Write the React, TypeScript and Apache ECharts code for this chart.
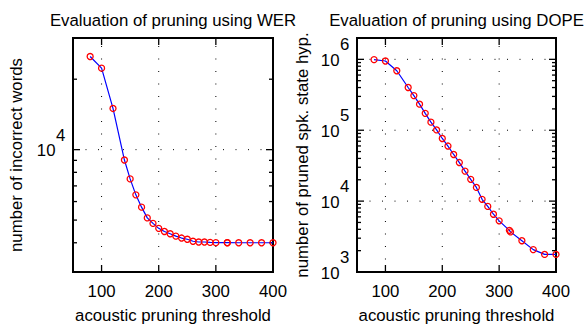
import React, { useEffect, useRef } from "react";
import * as echarts from "echarts";

// ---------- data ----------
const werThresholds = [80, 100, 120, 140, 150, 160, 170, 180, 190, 200, 210, 220, 230, 240, 250, 260, 270, 280, 290, 300, 320, 320, 340, 360, 380, 400];
const incorrectWords = [25000, 22300, 15000, 9030, 7500, 6410, 5680, 5110, 4840, 4610, 4470, 4370, 4270, 4190, 4140, 4060, 4030, 4030, 4015, 4005, 4005, 4000, 4000, 4000, 4000, 4000];

const dopeThresholds = [80, 100, 120, 140, 150, 160, 170, 180, 190, 200, 210, 220, 230, 240, 250, 260, 270, 280, 290, 300, 318, 320, 340, 360, 380, 400];
const prunedHyp = [990000, 947000, 690000, 401000, 308000, 233000, 173000, 130000, 101000, 76500, 59800, 45500, 35000, 26500, 20300, 15600, 10600, 8420, 6530, 5270, 3870, 3680, 2760, 2070, 1770, 1770];

const titles = ["Evaluation of pruning using WER", "Evaluation of pruning using DOPE"];
const xName = "acoustic pruning threshold";
const yNames = ["number of incorrect words", "number of pruned spk. state hyp."];

const xTicks = [100, 200, 300, 400];
const xRange = [50, 400];

const werYRange = [3000, 30000];
const werMajor = [10000];
const werMinor = [4000, 5000, 6000, 7000, 8000, 9000, 20000];
const werLabels = [10000];

const dopeYRange = [1000, 2000000];
const dopeMajor = [10000, 100000, 1000000];
const dopeMinor = [
  2000, 3000, 4000, 5000, 6000, 7000, 8000, 9000,
  20000, 30000, 40000, 50000, 60000, 70000, 80000, 90000,
  200000, 300000, 400000, 500000, 600000, 700000, 800000, 900000,
];
const dopeLabels = [1000, 10000, 100000, 1000000];

// ---------- style ----------
const FONT_FAMILY = "'Liberation Sans', Arial, Helvetica, sans-serif";
const FS = 16.8;
const FONT = `${FS}px ${FONT_FAMILY}`;
const MAJOR = 7;
const MINOR = 4;

const grids = [
  { left: 73, top: 38, width: 200, height: 239 },
  { left: 357, top: 38, width: 199, height: 239 },
];
const yNameGaps = [48.5, 46];

function xDeco(yMin: number, yMax: number) {
  return (params: any, api: any) => {
    const v = api.value(0);
    const b = api.coord([v, yMin]);
    const t = api.coord([v, yMax]);
    const st = { stroke: "#000", lineWidth: 1.3 };
    const children: any[] = [
      { type: "line", shape: { x1: b[0], y1: b[1], x2: b[0], y2: b[1] - MAJOR }, style: st },
      { type: "line", shape: { x1: t[0], y1: t[1], x2: t[0], y2: t[1] + MAJOR }, style: st },
      {
        type: "text",
        x: b[0],
        y: b[1] + 19.5,
        style: { text: String(v), align: "center", verticalAlign: "middle", font: FONT, fill: "#000" },
      },
    ];
    if (v > xRange[0] && v < xRange[1]) {
      children.push({
        type: "line",
        shape: { x1: b[0], y1: b[1], x2: t[0], y2: t[1] },
        style: { stroke: "#000", lineWidth: 1, lineDash: [1, 11.5] },
      });
    }
    return { type: "group", children };
  };
}

function yDeco(len: number, grid: boolean) {
  return (params: any, api: any) => {
    const v = api.value(1);
    const l = api.coord([xRange[0], v]);
    const r = api.coord([xRange[1], v]);
    const st = { stroke: "#000", lineWidth: 1.3 };
    const children: any[] = [
      { type: "line", shape: { x1: l[0], y1: l[1], x2: l[0] + len, y2: l[1] }, style: st },
      { type: "line", shape: { x1: r[0], y1: r[1], x2: r[0] - len, y2: r[1] }, style: st },
    ];
    if (grid) {
      children.push({
        type: "line",
        shape: { x1: l[0], y1: l[1], x2: r[0], y2: r[1] },
        style: { stroke: "#000", lineWidth: 1, lineDash: [1, 11.5] },
      });
    }
    return { type: "group", children };
  };
}

function yLabel(params: any, api: any) {
  const v = api.value(1);
  const p = api.coord([xRange[0], v]);
  const exp = Math.round(Math.log10(v));
  const bx = p[0] - 17.5;
  return {
    type: "group",
    children: [
      {
        type: "text",
        x: bx,
        y: p[1] + 1,
        style: { text: "10", align: "right", verticalAlign: "middle", font: FONT, fill: "#000" },
      },
      {
        type: "text",
        x: bx + 0.5,
        y: p[1] - 14.5,
        style: { text: String(exp), align: "left", verticalAlign: "middle", font: FONT, fill: "#000" },
      },
    ],
  };
}

function decoSeries(idx: number, data: number[][], renderItem: any) {
  return {
    type: "custom",
    xAxisIndex: idx,
    yAxisIndex: idx,
    data,
    renderItem,
    clip: false,
    silent: true,
    z: 1,
  };
}

function lineSeries(idx: number, xs: number[], ys: number[]) {
  return {
    type: "line",
    xAxisIndex: idx,
    yAxisIndex: idx,
    data: xs.map((x, i) => [x, ys[i]]),
    symbol: "circle",
    symbolSize: 6,
    showAllSymbol: true,
    lineStyle: { color: "#0000ff", width: 1.2 },
    itemStyle: { color: "rgba(0,0,0,0)", borderColor: "#ff0000", borderWidth: 1.3 },
    z: 5,
    silent: true,
  };
}

export default function App() {
  const ref = useRef<HTMLDivElement>(null);
  useEffect(() => {
    if (!ref.current) return;
    const chart = echarts.init(ref.current, undefined, { renderer: "svg" });
    const yRanges = [werYRange, dopeYRange];
    const option: any = {
      animation: false,
      backgroundColor: "#fff",
      grid: grids.map((g) => ({ ...g, show: true, borderColor: "#000", borderWidth: 2, backgroundColor: "transparent" })),
      xAxis: grids.map((_, i) => ({
        type: "value",
        gridIndex: i,
        min: xRange[0],
        max: xRange[1],
        axisLine: { show: false },
        axisTick: { show: false },
        axisLabel: { show: false },
        splitLine: { show: false },
        name: xName,
        nameLocation: "middle",
        nameGap: 35,
        nameTextStyle: { fontFamily: FONT_FAMILY, fontSize: FS, color: "#000" },
      })),
      yAxis: grids.map((_, i) => ({
        type: "log",
        logBase: 10,
        gridIndex: i,
        min: yRanges[i][0],
        max: yRanges[i][1],
        axisLine: { show: false },
        axisTick: { show: false },
        axisLabel: { show: false },
        splitLine: { show: false },
        minorSplitLine: { show: false },
        name: yNames[i],
        nameLocation: "middle",
        nameGap: yNameGaps[i],
        nameTextStyle: { fontFamily: FONT_FAMILY, fontSize: FS, color: "#000" },
      })),
      graphic: titles.map((t, i) => ({
        type: "text",
        x: grids[i].left + grids[i].width / 2,
        y: 20.5,
        style: { text: t, align: "center", verticalAlign: "middle", font: FONT, fill: "#000" },
      })),
      series: [
        decoSeries(0, xTicks.map((v) => [v, werYRange[0]]), xDeco(werYRange[0], werYRange[1])),
        decoSeries(0, werMajor.map((v) => [xRange[0], v]), yDeco(MAJOR, true)),
        decoSeries(0, werMinor.map((v) => [xRange[0], v]), yDeco(MINOR, false)),
        decoSeries(0, werLabels.map((v) => [xRange[0], v]), yLabel),
        lineSeries(0, werThresholds, incorrectWords),
        decoSeries(1, xTicks.map((v) => [v, dopeYRange[0]]), xDeco(dopeYRange[0], dopeYRange[1])),
        decoSeries(1, dopeMajor.map((v) => [xRange[0], v]), yDeco(MAJOR, true)),
        decoSeries(1, dopeMinor.map((v) => [xRange[0], v]), yDeco(MINOR, false)),
        decoSeries(1, dopeLabels.map((v) => [xRange[0], v]), yLabel),
        lineSeries(1, dopeThresholds, prunedHyp),
      ],
    };
    chart.setOption(option);
    return () => chart.dispose();
  }, []);
  return <div ref={ref} style={{ position: "absolute", left: 0, top: 0, width: 585, height: 329 }} />;
}
